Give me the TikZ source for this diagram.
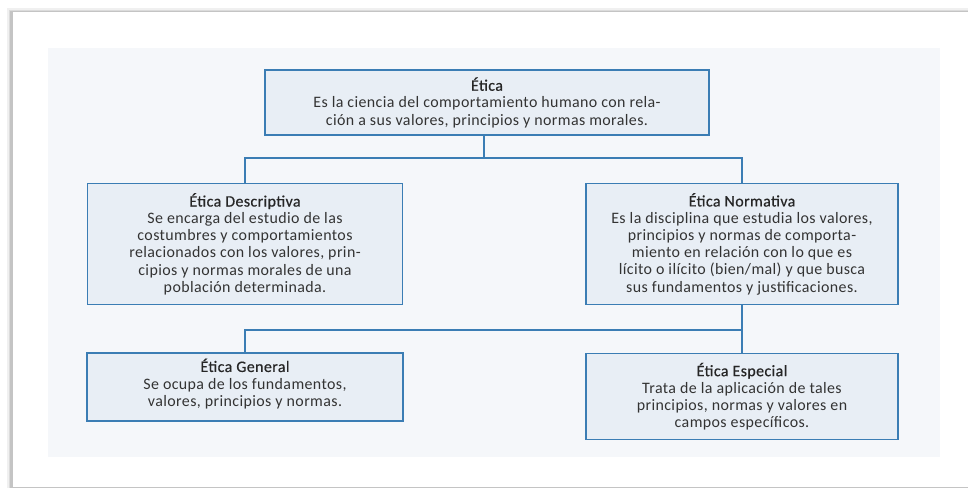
\documentclass[tikz,border=0pt]{standalone}
\usepackage{fontspec}
\setmainfont[LetterSpace=2.5]{Carlito}
\newfontfamily\headfont[LetterSpace=2.5, FakeBold=0.6]{Carlito}
\definecolor{panelbg}{HTML}{F5F7FA}
\definecolor{boxfill}{HTML}{E8EEF5}
\definecolor{boxline}{HTML}{3B7DB4}
\definecolor{ink}{HTML}{333333}
\definecolor{cardedge}{HTML}{C4C4C4}
\tikzset{
  concept/.style={draw=boxline, line width=1.4bp, fill=boxfill, rectangle,
    align=center, inner sep=0pt, text=ink,
    font=\fontsize{16}{17.2}\selectfont},
  link/.style={draw=boxline, line width=1.4bp},
}
\newcommand{\ttl}[1]{{\headfont\color{black!85}#1}}
\begin{document}
\begin{tikzpicture}[x=1bp, y=-1bp]
  \useasboundingbox (0,0) rectangle (968,488);
  % page card with its soft grey edge
  \fill[white] (0,0) rectangle (968,488);
  \fill[black!6] (7,8) rectangle (968,488);
  \fill[black!14] (9,10) rectangle (968,488);
  \fill[cardedge] (10,11) rectangle (968,488);
  \fill[white] (13,12.5) rectangle (968,486.5);
  % light panel behind the chart
  \fill[panelbg] (48,48) rectangle (940,457);

  % concept boxes
  \node[concept, minimum width=444bp, minimum height=65bp] (etica) at (487,102.5)
    {\ttl{Ética}\\Es la ciencia del comportamiento humano con rela-\\ción a sus valores, principios y normas morales.};
  \node[concept, minimum width=315bp, minimum height=121bp] (desc) at (245,244)
    {\ttl{Ética Descriptiva}\\Se encarga del estudio de las\\costumbres y comportamientos\\relacionados con los valores, prin-\\cipios y normas morales de una\\población determinada.};
  \node[concept, minimum width=312bp, minimum height=121bp] (norm) at (742,244)
    {\ttl{Ética Normativa}\\Es la disciplina que estudia los valores,\\principios y normas de comporta-\\miento en relación con lo que es\\lícito o ilícito (bien/mal) y que busca\\sus fundamentos y justificaciones.};
  \node[concept, minimum width=316bp, minimum height=68bp] (gen) at (245,387)
    {\ttl{Ética General}\\Se ocupa de los fundamentos,\\valores, principios y normas.\\[-8bp]};
  \node[concept, minimum width=312bp, minimum height=86bp] (esp) at (742,396.5)
    {\ttl{Ética Especial}\\Trata de la aplicación de tales\\principios, normas y valores en\\campos específicos.};

  % connectors
  \coordinate (j1) at (484,158);
  \coordinate (j2) at (742,330);
  \draw[link] (etica.south -| j1) -- (j1);
  \draw[link] (desc.north) |- (norm.north |- j1) -- (norm.north);
  \draw[link] (norm.south) -- (esp.north);
  \draw[link] (gen.north) |- (j2);
\end{tikzpicture}
\end{document}
